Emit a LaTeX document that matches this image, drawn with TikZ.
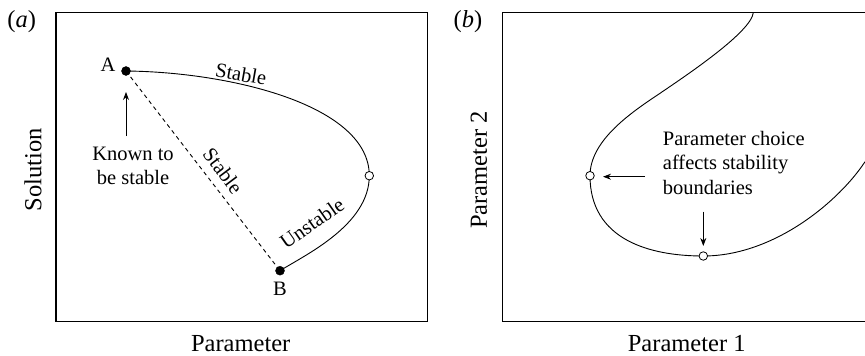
\documentclass[tikz,border=0pt]{standalone}
\usepackage{fontspec}
\setmainfont{Liberation Serif}
\usetikzlibrary{arrows.meta}
\begin{document}
\begin{tikzpicture}[x=1pt,y=-1pt,
  frame/.style={line width=1.4pt},
  curve/.style={line width=0.9pt},
  lbl/.style={font=\fontsize{20.5}{24.5}\selectfont, inner sep=0pt},
  axlbl/.style={font=\fontsize{24.5}{28}\selectfont, inner sep=0pt},
  fulldot/.style={circle, fill=black, draw=black, minimum size=9pt, inner sep=0pt},
  opendot/.style={circle, fill=white, draw=black, line width=0.8pt, minimum size=8.5pt, inner sep=0pt},
  pointer/.style={line width=0.9pt, -{Stealth[length=8pt,width=6pt]}}]
\useasboundingbox (0,0) rectangle (865,356);
% ---------- panel (a)
\node[axlbl] (pa) at (21.7,22) {(\textit{a})};
\draw[frame] (56,12.7) rectangle (427.7,321.7);
\node[axlbl, rotate=90] (ya) at (33,170) {Solution};
\node[axlbl] (xa) at (240.7,344) {Parameter};
\coordinate (A) at (126,71);
\coordinate (B) at (280,270.7);
\coordinate (C) at (369.3,175.7);
\draw[curve] (A) .. controls (230,72) and (369.3,105) .. (C)
                 .. controls (369.3,225) and (305,255) .. (B);
\draw[curve, dash pattern=on 4pt off 3.5pt] (A) -- (B);
\node[fulldot] (dA) at (A) {};
\node[fulldot] (dB) at (B) {};
\node[opendot] (dC) at (C) {};
\node[lbl] (lA) at (108,65) {A};
\node[lbl] (lB) at (280,289) {B};
\node[lbl, rotate=-10] (s1) at (241,74) {Stable};
\node[lbl, rotate=-53] (s2) at (223,171) {Stable};
\node[lbl, rotate=35] (u1) at (312,223) {Unstable};
\node[lbl, align=center] (kn) at (133,166) {Known to\\be stable};
\coordinate (ka) at (126,136);
\coordinate (kb) at (126,92);
\draw[pointer] (ka) -- (kb);
% ---------- panel (b)
\node[axlbl] (pb) at (468,22) {(\textit{b})};
\draw[frame] (870,12.7) -- (502.7,12.7) -- (502.7,321.7) -- (870,321.7);
\node[axlbl, rotate=90] (yb) at (479,170) {Parameter 2};
\node[axlbl] (xb) at (686.7,344) {Parameter 1};
\coordinate (T) at (753.3,12.7);
\coordinate (L) at (590,175.7);
\coordinate (D) at (703.3,256);
\coordinate (R) at (865,161.7);
\draw[curve] (T) .. controls (751,32) and (688,74.3) .. (660,93.3)
                 .. controls (632,112) and (590,140) .. (L)
                 .. controls (590,240) and (650,256) .. (D)
                 .. controls (775,256) and (840,200) .. (R);
\node[opendot] (oL) at (L) {};
\node[opendot] (oD) at (D) {};
\node[lbl, align=left, anchor=north west] (pc) at (662.7,131) {Parameter choice\\affects stability\\boundaries};
\coordinate (h1) at (645,176.7);
\coordinate (h2) at (603,176.7);
\draw[pointer] (h1) -- (h2);
\coordinate (v1) at (703.3,211.7);
\coordinate (v2) at (703.3,246);
\draw[pointer] (v1) -- (v2);
\end{tikzpicture}
\end{document}
